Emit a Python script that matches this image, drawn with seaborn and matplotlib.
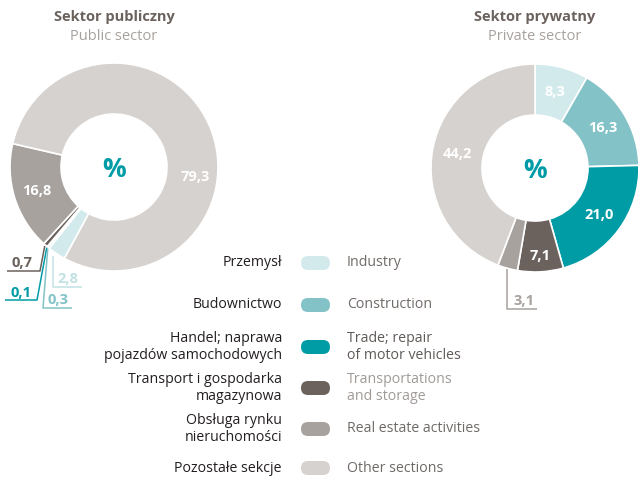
import matplotlib
matplotlib.use("Agg")
import matplotlib.pyplot as plt
import numpy as np
import seaborn as sns
from matplotlib.patches import FancyBboxPatch

# ---- data -------------------------------------------------------------
sectors_pl = ["Przemysł", "Budownictwo", "Handel; naprawa\npojazdów samochodowych",
              "Transport i gospodarka\nmagazynowa", "Obsługa rynku\nnieruchomości",
              "Pozostałe sekcje"]
sectors_en = ["Industry", "Construction", "Trade; repair\nof motor vehicles",
              "Transportations\nand storage", "Real estate activities", "Other sections"]
public_share = [2.8, 0.3, 0.1, 0.7, 16.8, 79.3]
private_share = [8.3, 16.3, 21.0, 7.1, 3.1, 44.2]

titles_pl = ["Sektor publiczny", "Sektor prywatny"]
titles_en = ["Public sector", "Private sector"]

# ---- style ------------------------------------------------------------
sns.set_theme(style="white")
palette = sns.color_palette(["#d3eaec", "#83c3c8", "#009ca6", "#6b625e", "#a8a29f", "#d6d2cf"])
FONT = ["Open Sans", "DejaVu Sans"]
plt.rcParams["font.family"] = FONT

W, H = 638, 479
fig = plt.figure(figsize=(W / 100, H / 100), dpi=100)
ax = fig.add_axes([0, 0, 1, 1])


def Y(y):
    """Convert a top-down pixel row into the axis' bottom-up coordinate."""
    return H - y


R_OUT, RING = 104, 51
centers = [(114, Y(167)), (535, Y(168))]


def fmt(v):
    return f"{v:.1f}".replace(".", ",")


def polar(c, r, ang):
    a = np.deg2rad(ang)
    return c[0] + r * np.cos(a), c[1] + r * np.sin(a)


def donut(values, center, startangle):
    wedges, _ = ax.pie(values, colors=palette, startangle=startangle,
                       counterclock=False, radius=R_OUT, center=center,
                       wedgeprops=dict(width=RING, edgecolor="white", linewidth=1.2))
    ax.text(center[0], center[1] - 2, "%", ha="center", va="center",
            fontsize=19, fontweight="bold", color="#009ca6")
    return wedges


def mid(w):
    return (w.theta1 + w.theta2) / 2


def leader(points, label, tpos, color):
    xs = [p[0] for p in points]
    ys = [Y(p[1]) for p in points]
    ax.plot(xs, ys, color=color, lw=1.1, solid_capstyle="butt")
    ax.text(tpos[0], Y(tpos[1]), label, ha="center", va="center",
            fontsize=10.5, fontweight="bold", color=color)


def value_label(c, r, ang, v):
    x, y = polar(c, r, ang)
    ax.text(x, y, fmt(v), ha="center", va="center",
            fontsize=10.5, fontweight="bold", color="white")


# ---- public sector ------------------------------------------------------
pub_start = 167 + sum(public_share[:5]) * 3.6
pw = donut(public_share, centers[0], pub_start)
c0 = centers[0]
value_label(c0, 81, mid(pw[4]), public_share[4])
value_label(c0, 82, -7, public_share[5])


def edge_pt(c, ang, r=R_OUT + 1):
    x, y = polar(c, r, ang)
    return (x, H - y)


# outside labels with leader lines
leader([edge_pt(c0, mid(pw[3])), (40, 271), (7, 271)], fmt(public_share[3]), (22, 263), "#6b625e")
leader([edge_pt(c0, mid(pw[2])), (37, 300), (5, 300)], fmt(public_share[2]), (21, 293), "#009ca6")
leader([edge_pt(c0, mid(pw[1])), (43, 308), (72, 308)], fmt(public_share[1]), (58, 300), "#83c3c8")
leader([(53, 256), (53, 287), (82, 287)], fmt(public_share[0]), (68, 279), "#c2e1e3")

# ---- private sector -----------------------------------------------------
vw = donut(private_share, centers[1], 90)
c1 = centers[1]
label_r = {3: 88}
for i, w in enumerate(vw):
    if i == 4:
        continue
    value_label(c1, label_r.get(i, 79), mid(w), private_share[i])
ex, ey = edge_pt(c1, mid(vw[4]))
leader([(ex, ey), (ex, 309), (537, 309)], fmt(private_share[4]), (524, 301), "#a8a29f")

# ---- titles -------------------------------------------------------------
for c, tp, te in zip(centers, titles_pl, titles_en):
    ax.text(c[0], Y(17), tp, ha="center", va="center", fontsize=10.5,
            fontweight="bold", color="#6b625e")
    ax.text(c[0], Y(36), te, ha="center", va="center", fontsize=10.5,
            color="#a8a29f")

# ---- legend -------------------------------------------------------------
rows = [263, 305, 347, 388, 429, 468]
en_colors = ["#6f6a67", "#6f6a67", "#5f5a57", "#a09a97", "#6f6a67", "#6f6a67"]
for yy, pl, en, col, ec in zip(rows, sectors_pl, sectors_en, palette, en_colors):
    ax.add_patch(FancyBboxPatch((301, Y(yy) - 7), 29, 14,
                                boxstyle="round,pad=0,rounding_size=7",
                                facecolor=col, edgecolor="none"))
    ax.text(282, Y(yy), pl, ha="right", va="center", fontsize=10.2,
            color="#231f20", linespacing=1.1)
    ax.text(347, Y(yy), en, ha="left", va="center", fontsize=10.2,
            color=ec, linespacing=1.1)

ax.set_xlim(0, W)
ax.set_ylim(0, H)
ax.set_aspect("equal")
ax.axis("off")
fig.savefig("out.png", dpi=100, facecolor="white")
